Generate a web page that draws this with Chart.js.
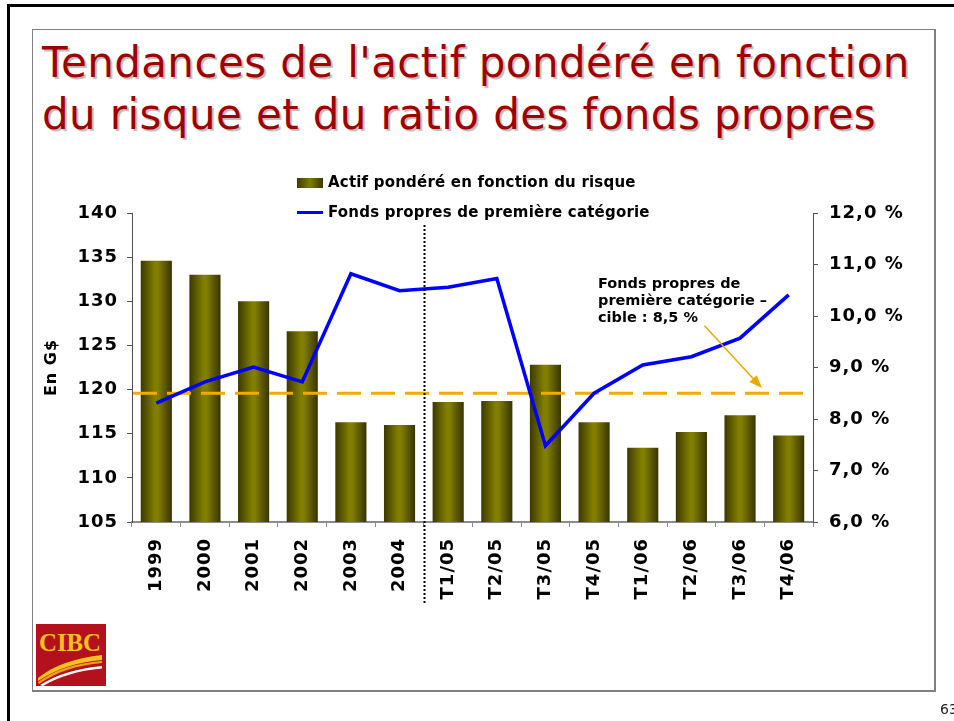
<!DOCTYPE html>
<html lang="fr">
<head>
<meta charset="utf-8">
<title>Tendances de l'actif pondéré en fonction du risque et du ratio des fonds propres</title>
<script src="https://cdn.jsdelivr.net/npm/chart.js@4.4.1/dist/chart.umd.min.js"></script>
<style>
  html, body { margin: 0; padding: 0; background: #fff; }
  body { width: 954px; height: 721px; position: relative; overflow: hidden; font-family: "DejaVu Sans", Verdana, sans-serif; }
  #outer { position: absolute; left: 7px; top: 4px; width: 960px; height: 730px; border-left: 3px solid #000; border-top: 3px solid #000; }
  #inner { position: absolute; left: 32px; top: 29px; width: 901px; height: 660px; border: 1px solid #808080; border-right-width: 2px; border-bottom-width: 2px; }
  #title { position: absolute; left: 42px; top: 37px; margin: 0; font-size: 42px; line-height: 52px; letter-spacing: 0.4px; font-weight: normal; color: #a00000; text-shadow: 2px 2px 1px #bcbcbc; white-space: nowrap; }
  #chartBox { position: absolute; left: 0; top: 0; width: 954px; height: 721px; }
  .legend { position: absolute; left: 297px; font-size: 15px; font-weight: bold; color: #000; white-space: nowrap; line-height: 18px; letter-spacing: 0.2px; }
  .legend span.sw { display: inline-block; vertical-align: middle; margin-right: 5px; }
  .sw.bar { width: 26px; height: 10px; background: linear-gradient(to right, #3d3a00, #807d00 50%, #3a3600); }
  .sw.line { width: 26px; height: 3px; background: #0000ff; }
  #logo { position: absolute; left: 36px; top: 624px; }
  #page { position: absolute; left: 940px; top: 701px; font-size: 14px; color: #222; }
</style>
</head>
<body>
<div id="outer"></div>
<div id="inner"></div>
<h1 id="title">Tendances de l'actif pondéré en fonction<br>du risque et du ratio des fonds propres</h1>
<div id="chartBox"><canvas id="rwaChart"></canvas></div>
<div class="legend" style="top:173px"><span class="sw bar"></span>Actif pondéré en fonction du risque</div>
<div class="legend" style="top:203px"><span class="sw line"></span>Fonds propres de première catégorie</div>
<svg id="logo" width="70" height="62" viewBox="0 0 70 62">
  <rect width="70" height="62" fill="#b3111c"/>
  <text x="3" y="27" textLength="62" lengthAdjust="spacingAndGlyphs" font-family="Liberation Serif, DejaVu Serif, serif" font-weight="bold" font-size="25" fill="#f6c21c">CIBC</text>
  <path d="M2 54 C 18 41, 40 34, 66 31 L 66 36 C 42 38, 20 45, 2 57 Z" fill="#f6c21c"/>
  <path d="M2 58 C 18 46, 40 39, 66 37 L 66 39 C 42 41, 20 48, 3 60 Z" fill="#f0a020"/>
  <path d="M4 61 C 20 51, 42 44, 66 42 L 66 44.5 C 42 46.5, 22 53, 7 62 Z" fill="#ffffff"/>
</svg>
<div id="page">63</div>

<script>
// Catégories (années puis trimestres)
const categories = ["1999", "2000", "2001", "2002", "2003", "2004",
    "T1/05", "T2/05", "T3/05", "T4/05", "T1/06", "T2/06", "T3/06", "T4/06"];

// Actif pondéré en fonction du risque (G$)
const rwaValues = [134.6, 133.0, 130.0, 126.6, 116.3, 116.0,
    118.6, 118.7, 122.8, 116.3, 113.4, 115.2, 117.1, 114.8];

// Ratio des fonds propres de première catégorie (%)
const tier1Ratio = [8.31, 8.72, 9.01, 8.72, 10.82, 10.49,
    10.56, 10.73, 7.48, 8.50, 9.05, 9.21, 9.57, 10.41];

// Cible : 8,5 %
const targetRatio = 8.5;

// Axes
const leftMin = 105, leftMax = 140, leftStep = 5;
const rightMin = 6, rightMax = 12, rightStep = 1;

const noteLines = ["Fonds propres de", "première catégorie –", "cible : 8,5 %"];

const tickFont = { family: "DejaVu Sans", size: 18, weight: "bold" };

// ✅ Dégradé horizontal des barres
function barGradient(ctx) {
    const chart = ctx.chart;
    const xs = chart.scales.x;
    if (!chart.chartArea || !xs || ctx.type !== "data") return "#7f7c00";
    const x = xs.getPixelForValue(ctx.dataIndex);
    const w = xs.width / categories.length * 0.64;
    const g = chart.ctx.createLinearGradient(x - w / 2, 0, x + w / 2, 0);
    g.addColorStop(0, "#3b3800");
    g.addColorStop(0.45, "#817e00");
    g.addColorStop(0.55, "#817e00");
    g.addColorStop(1, "#383400");
    return g;
}

// ✅ Léger espacement des lettres des graduations
const spacing = {
    id: "spacing",
    beforeDraw(chart) { chart.ctx.letterSpacing = "1px"; },
    afterDraw(chart) { chart.ctx.letterSpacing = "0px"; }
};

// ✅ Ligne cible pointillée (dessinée après les barres, avant la courbe)
const targetLine = {
    id: "targetLine",
    afterDatasetDraw(chart, args) {
        if (args.index !== 0) return;
        const { ctx, chartArea } = chart;
        const y = chart.scales.y1.getPixelForValue(targetRatio);
        ctx.save();
        ctx.strokeStyle = "#f5aa00";
        ctx.lineWidth = 3;
        ctx.setLineDash([24, 10]);
        ctx.beginPath();
        ctx.moveTo(chartArea.left + 1, y);
        ctx.lineTo(chartArea.right, y);
        ctx.stroke();
        ctx.restore();
    }
};

// ✅ Séparateur années / trimestres + note
const extras = {
    id: "extras",
    afterDraw(chart) {
        const { ctx, chartArea } = chart;
        const xs = chart.scales.x, y1 = chart.scales.y1;

        // séparateur pointillé
        const sx = Math.round(xs.getPixelForValue(5.5)) + 0.5;
        ctx.save();
        ctx.strokeStyle = "#000";
        ctx.lineWidth = 2;
        ctx.setLineDash([2, 2]);
        ctx.beginPath();
        ctx.moveTo(sx, chartArea.top + 12);
        ctx.lineTo(sx, chartArea.bottom + 83);
        ctx.stroke();
        ctx.restore();

        // note
        ctx.save();
        ctx.letterSpacing = "0px";
        ctx.fillStyle = "#000";
        ctx.font = "bold 14.5px 'DejaVu Sans'";
        ctx.textBaseline = "top";
        const tx = xs.getPixelForValue(9.08);
        const ty = y1.getPixelForValue(10.76);
        noteLines.forEach((line, i) => ctx.fillText(line, tx, ty + i * 17));

        // flèche
        const x0 = xs.getPixelForValue(11.27), yA = y1.getPixelForValue(9.81);
        const x1 = xs.getPixelForValue(12.45), yB = y1.getPixelForValue(8.6);
        const ang = Math.atan2(yB - yA, x1 - x0);
        ctx.strokeStyle = "#eaa800";
        ctx.fillStyle = "#eaa800";
        ctx.lineWidth = 1.5;
        ctx.beginPath();
        ctx.moveTo(x0, yA);
        ctx.lineTo(x1 - 10 * Math.cos(ang), yB - 10 * Math.sin(ang));
        ctx.stroke();
        ctx.beginPath();
        ctx.moveTo(x1, yB);
        ctx.lineTo(x1 - 13 * Math.cos(ang) + 5 * Math.sin(ang), yB - 13 * Math.sin(ang) - 5 * Math.cos(ang));
        ctx.lineTo(x1 - 13 * Math.cos(ang) - 5 * Math.sin(ang), yB - 13 * Math.sin(ang) + 5 * Math.cos(ang));
        ctx.closePath();
        ctx.fill();
        ctx.restore();
    }
};

const data = {
    labels: categories,
    datasets: [
        {
            type: "bar",
            label: "Actif pondéré en fonction du risque",
            data: rwaValues,
            yAxisID: "y",
            backgroundColor: barGradient,
            barPercentage: 0.64,
            categoryPercentage: 1.0,
            order: 1
        },
        {
            type: "line",
            label: "Fonds propres de première catégorie",
            data: tier1Ratio,
            yAxisID: "y1",
            borderColor: "#0000ff",
            borderWidth: 3.5,
            pointRadius: 0,
            tension: 0,
            order: 0
        }
    ]
};

const config = {
    type: "bar",
    data: data,
    options: {
        responsive: false,
        animation: false,
        layout: { padding: { left: 40, right: 41, top: 213, bottom: 99 } },
        plugins: {
            legend: { display: false },
            tooltip: { enabled: false }
        },
        scales: {
            x: {
                border: { color: "#8c8c8c", width: 2 },
                grid: { offset: true, drawOnChartArea: false, tickLength: 5, color: "#8c8c8c" },
                ticks: { autoSkip: false, minRotation: 90, maxRotation: 90, padding: 11, color: "#000", font: tickFont },
                afterFit: s => { s.height = 100; }
            },
            y: {
                position: "left",
                min: leftMin, max: leftMax,
                border: { color: "#505050", width: 1 },
                grid: { drawOnChartArea: false, tickLength: 5, color: "#505050" },
                ticks: { stepSize: leftStep, padding: 9, color: "#000", font: tickFont },
                title: { display: true, text: "En G$", color: "#000", padding: { top: 2, bottom: 0 },
                    font: { family: "DejaVu Sans", size: 16, weight: "bold" } },
                afterFit: s => { s.width = 92; }
            },
            y1: {
                position: "right",
                min: rightMin, max: rightMax,
                border: { color: "#505050", width: 1 },
                grid: { drawOnChartArea: false, tickLength: 5, color: "#505050" },
                ticks: { stepSize: rightStep, padding: 11, color: "#000", font: tickFont,
                    callback: v => v.toFixed(1).replace(".", ",") + " %" },
                afterFit: s => { s.width = 100; }
            }
        }
    },
    plugins: [spacing, targetLine, extras]
};

const canvas = document.getElementById("rwaChart");
canvas.width = 954;
canvas.height = 721;
canvas.style.width = "954px";
canvas.style.height = "721px";
new Chart(canvas, config);
</script>
</body>
</html>
